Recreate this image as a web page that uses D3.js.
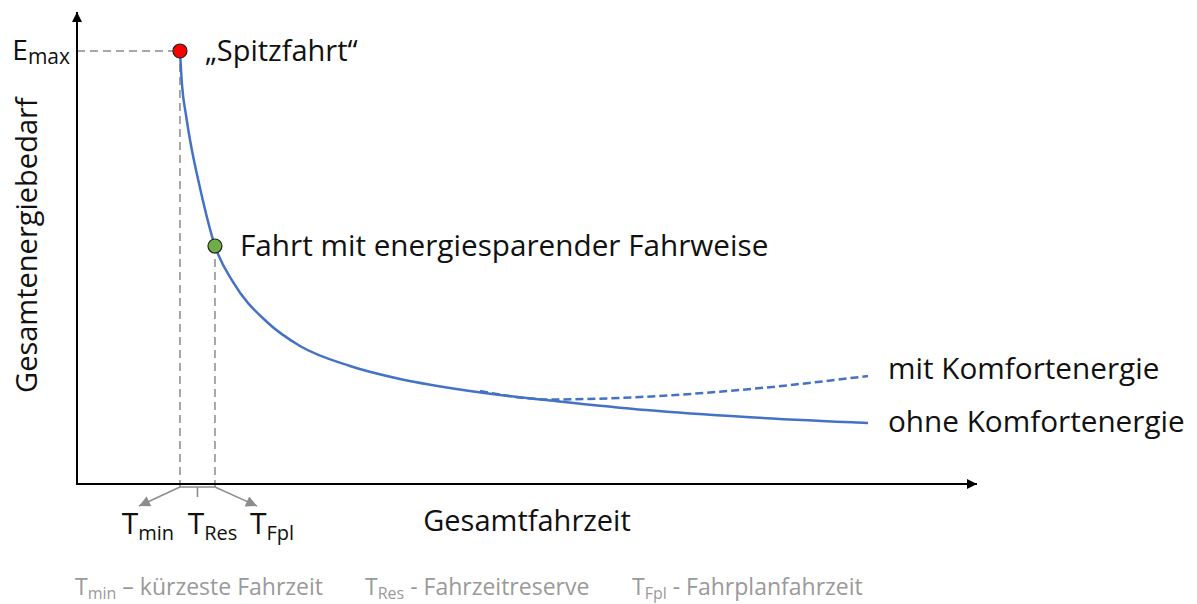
<!DOCTYPE html>
<html>
<head>
<meta charset="utf-8">
<script src="https://cdn.jsdelivr.net/npm/d3@7"></script>
<style>
  body { margin: 0; background: #fff; }
  text { font-family: "Open Sans", sans-serif; }
</style>
</head>
<body>
<div id="chart"></div>
<script>
// Gesamtfahrzeit (arbitrary units) vs. Gesamtenergiebedarf (arbitrary units)
const fahrzeitOhne = [11.44, 11.67, 12.11, 12.56, 13.67, 15.33, 17.33, 21.11, 24.78, 30.33, 35.89, 41.44, 47.0, 52.11, 63.22, 74.33, 87.89];
const energieOhne = [91.74, 84.53, 78.18, 72.88, 62.71, 50.42, 42.8, 34.32, 29.24, 25.0, 22.25, 20.34, 18.86, 17.8, 15.68, 14.19, 12.92];
const fahrzeitMit = [44.78, 52.56, 62.56, 73.67, 87.89];
const energieMit = [19.7, 17.9, 18.43, 19.92, 22.88];

const spitzfahrt = {t: 11.44, e: 91.74, label: '„Spitzfahrt“', color: '#ff0000'};
const sparfahrt = {t: 15.33, e: 50.42, label: 'Fahrt mit energiesparender Fahrweise', color: '#70ad47'};
const tLabels = ['min', 'Res', 'Fpl'];
const footnotes = [['min', ' – kürzeste Fahrzeit'], ['Res', ' - Fahrzeitreserve'], ['Fpl', ' - Fahrplanfahrzeit']];

const width = 1197, height = 604;
const margin = {top: 12, right: 220, bottom: 120, left: 77};

const svg = d3.select('#chart').append('svg')
  .attr('width', width)
  .attr('height', height);

const x = d3.scaleLinear().domain([0, 100]).range([margin.left, width - margin.right]);
const y = d3.scaleLinear().domain([0, 100]).range([height - margin.bottom, margin.top]);

const defs = svg.append('defs');
defs.append('marker').attr('id', 'arrowBlack')
  .attr('viewBox', '0 0 10 10').attr('refX', 10).attr('refY', 5)
  .attr('markerWidth', 12).attr('markerHeight', 10).attr('markerUnits', 'userSpaceOnUse')
  .attr('orient', 'auto')
  .append('path').attr('d', 'M0,0L10,5L0,10Z').attr('fill', '#000');
defs.append('marker').attr('id', 'arrowGray')
  .attr('viewBox', '0 0 10 10').attr('refX', 10).attr('refY', 5)
  .attr('markerWidth', 12).attr('markerHeight', 11).attr('markerUnits', 'userSpaceOnUse')
  .attr('orient', 'auto')
  .append('path').attr('d', 'M0,0L10,5L0,10Z').attr('fill', '#8c8c8c');

// reference lines
const dashed = svg.append('g')
  .attr('stroke', '#8c8c8c').attr('stroke-width', 1.5).attr('stroke-dasharray', '8,5').attr('fill', 'none');
dashed.append('line')
  .attr('x1', x(0)).attr('x2', x(spitzfahrt.t))
  .attr('y1', y(spitzfahrt.e)).attr('y2', y(spitzfahrt.e));
[spitzfahrt, sparfahrt].forEach(p => {
  dashed.append('line')
    .attr('x1', x(p.t)).attr('x2', x(p.t))
    .attr('y1', y(p.e)).attr('y2', y(0));
});

// curves
const line = d3.line()
  .x(d => x(d[0]))
  .y(d => y(d[1]))
  .curve(d3.curveMonotoneX);

svg.append('path')
  .datum(d3.zip(fahrzeitMit, energieMit))
  .attr('d', line)
  .attr('fill', 'none').attr('stroke', '#4472c4').attr('stroke-width', 2.5)
  .attr('stroke-dasharray', '8,4');

svg.append('path')
  .datum(d3.zip(fahrzeitOhne, energieOhne))
  .attr('d', line)
  .attr('fill', 'none').attr('stroke', '#4472c4').attr('stroke-width', 2.5);

// axes
svg.append('line')
  .attr('x1', x(0)).attr('y1', y(0)).attr('x2', x(0)).attr('y2', y(100))
  .attr('stroke', '#000').attr('stroke-width', 2).attr('marker-end', 'url(#arrowBlack)');
svg.append('line')
  .attr('x1', x(0) - 1).attr('y1', y(0)).attr('x2', x(100)).attr('y2', y(0))
  .attr('stroke', '#000').attr('stroke-width', 2).attr('marker-end', 'url(#arrowBlack)');

svg.append('text')
  .attr('transform', `translate(${x(0) - 40}, ${y(50.6)}) rotate(-90)`)
  .attr('text-anchor', 'middle')
  .attr('font-size', 29)
  .attr('fill', '#111')
  .text('Gesamtenergiebedarf');

svg.append('text')
  .attr('x', x(50)).attr('y', y(0) + 47)
  .attr('text-anchor', 'middle')
  .attr('font-size', 29)
  .attr('fill', '#111')
  .text('Gesamtfahrzeit');

// E_max
const emax = svg.append('text')
  .attr('x', x(0) - 7).attr('y', y(spitzfahrt.e) + 9)
  .attr('text-anchor', 'end')
  .attr('font-size', 28).attr('fill', '#111');
emax.append('tspan').text('E');
emax.append('tspan').attr('font-size', 21).attr('dy', 4).text('max');

// points
[spitzfahrt, sparfahrt].forEach(p => {
  svg.append('circle')
    .attr('cx', x(p.t)).attr('cy', y(p.e)).attr('r', 7)
    .attr('fill', p.color).attr('stroke', '#222').attr('stroke-width', 1.2);
  svg.append('text')
    .attr('x', x(p.t) + 25).attr('y', y(p.e) + 10)
    .attr('font-size', p === spitzfahrt ? 29 : 29.7).attr('fill', '#111')
    .text(p.label);
});

// series labels
svg.append('text')
  .attr('x', x(d3.max(fahrzeitMit)) + 20).attr('y', y(energieMit[energieMit.length - 1]) + 3)
  .attr('font-size', 29.7).attr('fill', '#111')
  .text('mit Komfortenergie');
svg.append('text')
  .attr('x', x(d3.max(fahrzeitOhne)) + 20).attr('y', y(energieOhne[energieOhne.length - 1]) + 9)
  .attr('font-size', 29.7).attr('fill', '#111')
  .text('ohne Komfortenergie');

// bracket below the time axis
const tMin = spitzfahrt.t, tFpl = sparfahrt.t, tRes = (tMin + tFpl) / 2;
const yb = y(0) + 3;
svg.append('path')
  .attr('d', `M${x(tMin)},${y(0) + 1}V${yb}H${x(tFpl)}V${y(0) + 1}M${x(tRes)},${yb}V${yb + 10}`)
  .attr('fill', 'none').attr('stroke', '#8c8c8c').attr('stroke-width', 1.6);
svg.append('line')
  .attr('x1', x(tMin)).attr('y1', yb).attr('x2', x(tMin) - 41).attr('y2', yb + 19)
  .attr('stroke', '#8c8c8c').attr('stroke-width', 1.4).attr('marker-end', 'url(#arrowGray)');
svg.append('line')
  .attr('x1', x(tFpl)).attr('y1', yb).attr('x2', x(tFpl) + 42).attr('y2', yb + 19)
  .attr('stroke', '#8c8c8c').attr('stroke-width', 1.4).attr('marker-end', 'url(#arrowGray)');

const tPos = [x(tMin) - 32, x(tRes) + 15, x(tFpl) + 57];
tLabels.forEach((s, i) => {
  const t = svg.append('text')
    .attr('x', tPos[i]).attr('y', y(0) + 50)
    .attr('text-anchor', 'middle')
    .attr('font-size', 30).attr('fill', '#111');
  t.append('tspan').text('T');
  t.append('tspan').attr('font-size', 20).attr('dy', 6).text(s);
});

// footnote
const footX = [75, 365, 632];
footnotes.forEach((f, i) => {
  const t = svg.append('text')
    .attr('x', footX[i]).attr('y', 595)
    .attr('font-size', 23).attr('fill', '#9a9a9a');
  t.append('tspan').text('T');
  t.append('tspan').attr('font-size', 16).attr('dy', 4).text(f[0]);
  t.append('tspan').attr('dy', -4).text(f[1]);
});
</script>
</body>
</html>
